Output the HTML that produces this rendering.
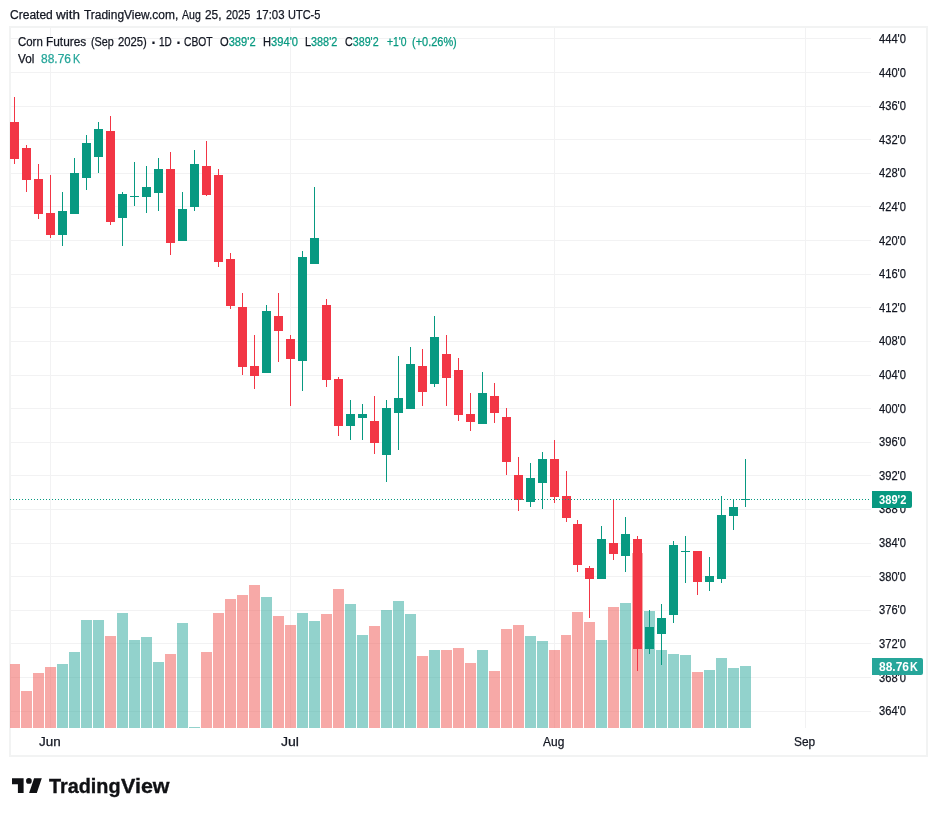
<!DOCTYPE html><html><head><meta charset="utf-8"><title>Corn Futures chart</title><style>
html,body{margin:0;padding:0;background:#fff}body{width:937px;height:816px;position:relative;overflow:hidden;font-family:"Liberation Sans",sans-serif}
.t{position:absolute;white-space:pre;line-height:1;margin:0;padding:0;transform-origin:0 0;-webkit-text-stroke:0.25px}.b{-webkit-text-stroke:0}.l{-webkit-text-stroke:0.35px}
</style></head><body>
<svg width="937" height="816" viewBox="0 0 937 816" shape-rendering="crispEdges" style="position:absolute;left:0;top:0">
<rect x="10" y="27" width="917" height="729" fill="none" stroke="#f2f3f3" stroke-width="2"/>
<rect x="11" y="38" width="860" height="1" fill="#f2f2f3"/>
<rect x="11" y="72" width="860" height="1" fill="#f2f2f3"/>
<rect x="11" y="106" width="860" height="1" fill="#f2f2f3"/>
<rect x="11" y="139" width="860" height="1" fill="#f2f2f3"/>
<rect x="11" y="173" width="860" height="1" fill="#f2f2f3"/>
<rect x="11" y="206" width="860" height="1" fill="#f2f2f3"/>
<rect x="11" y="240" width="860" height="1" fill="#f2f2f3"/>
<rect x="11" y="274" width="860" height="1" fill="#f2f2f3"/>
<rect x="11" y="307" width="860" height="1" fill="#f2f2f3"/>
<rect x="11" y="341" width="860" height="1" fill="#f2f2f3"/>
<rect x="11" y="375" width="860" height="1" fill="#f2f2f3"/>
<rect x="11" y="408" width="860" height="1" fill="#f2f2f3"/>
<rect x="11" y="442" width="860" height="1" fill="#f2f2f3"/>
<rect x="11" y="475" width="860" height="1" fill="#f2f2f3"/>
<rect x="11" y="509" width="860" height="1" fill="#f2f2f3"/>
<rect x="11" y="543" width="860" height="1" fill="#f2f2f3"/>
<rect x="11" y="576" width="860" height="1" fill="#f2f2f3"/>
<rect x="11" y="610" width="860" height="1" fill="#f2f2f3"/>
<rect x="11" y="643" width="860" height="1" fill="#f2f2f3"/>
<rect x="11" y="677" width="860" height="1" fill="#f2f2f3"/>
<rect x="11" y="711" width="860" height="1" fill="#f2f2f3"/>
<rect x="50" y="28" width="1" height="700" fill="#f2f2f3"/>
<rect x="290" y="28" width="1" height="700" fill="#f2f2f3"/>
<rect x="554" y="28" width="1" height="700" fill="#f2f2f3"/>
<rect x="805" y="28" width="1" height="700" fill="#f2f2f3"/>
<rect x="10" y="664" width="10" height="64" fill="rgba(239,83,80,0.5)"/>
<rect x="21" y="691" width="11" height="37" fill="rgba(239,83,80,0.5)"/>
<rect x="33" y="673" width="11" height="55" fill="rgba(239,83,80,0.5)"/>
<rect x="45" y="667" width="11" height="61" fill="rgba(239,83,80,0.5)"/>
<rect x="57" y="664" width="11" height="64" fill="rgba(38,166,154,0.5)"/>
<rect x="69" y="652" width="11" height="76" fill="rgba(38,166,154,0.5)"/>
<rect x="81" y="620" width="11" height="108" fill="rgba(38,166,154,0.5)"/>
<rect x="93" y="620" width="11" height="108" fill="rgba(38,166,154,0.5)"/>
<rect x="105" y="636" width="11" height="92" fill="rgba(239,83,80,0.5)"/>
<rect x="117" y="613" width="11" height="115" fill="rgba(38,166,154,0.5)"/>
<rect x="129" y="640" width="11" height="88" fill="rgba(38,166,154,0.5)"/>
<rect x="141" y="637" width="11" height="91" fill="rgba(38,166,154,0.5)"/>
<rect x="153" y="662" width="11" height="66" fill="rgba(38,166,154,0.5)"/>
<rect x="165" y="654" width="11" height="74" fill="rgba(239,83,80,0.5)"/>
<rect x="177" y="623" width="11" height="105" fill="rgba(38,166,154,0.5)"/>
<rect x="189" y="727" width="11" height="1" fill="rgba(38,166,154,0.5)"/>
<rect x="201" y="652" width="11" height="76" fill="rgba(239,83,80,0.5)"/>
<rect x="213" y="613" width="11" height="115" fill="rgba(239,83,80,0.5)"/>
<rect x="225" y="599" width="11" height="129" fill="rgba(239,83,80,0.5)"/>
<rect x="237" y="595" width="11" height="133" fill="rgba(239,83,80,0.5)"/>
<rect x="249" y="585" width="11" height="143" fill="rgba(239,83,80,0.5)"/>
<rect x="261" y="597" width="11" height="131" fill="rgba(38,166,154,0.5)"/>
<rect x="273" y="616" width="11" height="112" fill="rgba(239,83,80,0.5)"/>
<rect x="285" y="625" width="11" height="103" fill="rgba(239,83,80,0.5)"/>
<rect x="297" y="613" width="11" height="115" fill="rgba(38,166,154,0.5)"/>
<rect x="309" y="621" width="11" height="107" fill="rgba(38,166,154,0.5)"/>
<rect x="321" y="614" width="11" height="114" fill="rgba(239,83,80,0.5)"/>
<rect x="333" y="589" width="11" height="139" fill="rgba(239,83,80,0.5)"/>
<rect x="345" y="604" width="11" height="124" fill="rgba(38,166,154,0.5)"/>
<rect x="357" y="635" width="11" height="93" fill="rgba(38,166,154,0.5)"/>
<rect x="369" y="626" width="11" height="102" fill="rgba(239,83,80,0.5)"/>
<rect x="381" y="610" width="11" height="118" fill="rgba(38,166,154,0.5)"/>
<rect x="393" y="601" width="11" height="127" fill="rgba(38,166,154,0.5)"/>
<rect x="405" y="614" width="11" height="114" fill="rgba(38,166,154,0.5)"/>
<rect x="417" y="656" width="11" height="72" fill="rgba(239,83,80,0.5)"/>
<rect x="429" y="650" width="11" height="78" fill="rgba(38,166,154,0.5)"/>
<rect x="441" y="650" width="11" height="78" fill="rgba(239,83,80,0.5)"/>
<rect x="453" y="648" width="11" height="80" fill="rgba(239,83,80,0.5)"/>
<rect x="465" y="663" width="11" height="65" fill="rgba(239,83,80,0.5)"/>
<rect x="477" y="650" width="11" height="78" fill="rgba(38,166,154,0.5)"/>
<rect x="489" y="671" width="11" height="57" fill="rgba(239,83,80,0.5)"/>
<rect x="501" y="629" width="11" height="99" fill="rgba(239,83,80,0.5)"/>
<rect x="513" y="625" width="11" height="103" fill="rgba(239,83,80,0.5)"/>
<rect x="525" y="636" width="11" height="92" fill="rgba(38,166,154,0.5)"/>
<rect x="537" y="641" width="11" height="87" fill="rgba(38,166,154,0.5)"/>
<rect x="549" y="650" width="11" height="78" fill="rgba(239,83,80,0.5)"/>
<rect x="561" y="635" width="10" height="93" fill="rgba(239,83,80,0.5)"/>
<rect x="572" y="612" width="11" height="116" fill="rgba(239,83,80,0.5)"/>
<rect x="584" y="622" width="11" height="106" fill="rgba(239,83,80,0.5)"/>
<rect x="596" y="640" width="11" height="88" fill="rgba(38,166,154,0.5)"/>
<rect x="608" y="607" width="11" height="121" fill="rgba(239,83,80,0.5)"/>
<rect x="620" y="603" width="11" height="125" fill="rgba(38,166,154,0.5)"/>
<rect x="632" y="553" width="11" height="175" fill="rgba(239,83,80,0.5)"/>
<rect x="644" y="611" width="11" height="117" fill="rgba(38,166,154,0.5)"/>
<rect x="656" y="650" width="11" height="78" fill="rgba(38,166,154,0.5)"/>
<rect x="668" y="654" width="11" height="74" fill="rgba(38,166,154,0.5)"/>
<rect x="680" y="655" width="11" height="73" fill="rgba(38,166,154,0.5)"/>
<rect x="692" y="672" width="11" height="56" fill="rgba(239,83,80,0.5)"/>
<rect x="704" y="670" width="11" height="58" fill="rgba(38,166,154,0.5)"/>
<rect x="716" y="658" width="11" height="70" fill="rgba(38,166,154,0.5)"/>
<rect x="728" y="668" width="11" height="60" fill="rgba(38,166,154,0.5)"/>
<rect x="740" y="666" width="11" height="62" fill="rgba(38,166,154,0.5)"/>
<rect x="14" y="97" width="1" height="67" fill="#f23645"/>
<rect x="10" y="122" width="9" height="37" fill="#f23645"/>
<rect x="26" y="145" width="1" height="47" fill="#f23645"/>
<rect x="22" y="148" width="9" height="32" fill="#f23645"/>
<rect x="38" y="164" width="1" height="55" fill="#f23645"/>
<rect x="34" y="179" width="9" height="35" fill="#f23645"/>
<rect x="50" y="175" width="1" height="63" fill="#f23645"/>
<rect x="46" y="213" width="9" height="22" fill="#f23645"/>
<rect x="62" y="192" width="1" height="54" fill="#089981"/>
<rect x="58" y="211" width="9" height="24" fill="#089981"/>
<rect x="74" y="158" width="1" height="56" fill="#089981"/>
<rect x="70" y="173" width="9" height="41" fill="#089981"/>
<rect x="86" y="135" width="1" height="55" fill="#089981"/>
<rect x="82" y="143" width="9" height="35" fill="#089981"/>
<rect x="98" y="122" width="1" height="51" fill="#089981"/>
<rect x="94" y="129" width="9" height="28" fill="#089981"/>
<rect x="110" y="116" width="1" height="109" fill="#f23645"/>
<rect x="106" y="131" width="9" height="91" fill="#f23645"/>
<rect x="122" y="192" width="1" height="54" fill="#089981"/>
<rect x="118" y="194" width="9" height="24" fill="#089981"/>
<rect x="134" y="162" width="1" height="44" fill="#089981"/>
<rect x="130" y="196" width="9" height="1" fill="#089981"/>
<rect x="146" y="166" width="1" height="47" fill="#089981"/>
<rect x="142" y="187" width="9" height="10" fill="#089981"/>
<rect x="158" y="158" width="1" height="53" fill="#089981"/>
<rect x="154" y="169" width="9" height="24" fill="#089981"/>
<rect x="170" y="152" width="1" height="103" fill="#f23645"/>
<rect x="166" y="169" width="9" height="74" fill="#f23645"/>
<rect x="182" y="192" width="1" height="49" fill="#089981"/>
<rect x="178" y="209" width="9" height="32" fill="#089981"/>
<rect x="194" y="150" width="1" height="61" fill="#089981"/>
<rect x="190" y="164" width="9" height="43" fill="#089981"/>
<rect x="206" y="141" width="1" height="55" fill="#f23645"/>
<rect x="202" y="166" width="9" height="29" fill="#f23645"/>
<rect x="218" y="169" width="1" height="98" fill="#f23645"/>
<rect x="214" y="175" width="9" height="87" fill="#f23645"/>
<rect x="230" y="253" width="1" height="56" fill="#f23645"/>
<rect x="226" y="259" width="9" height="47" fill="#f23645"/>
<rect x="242" y="293" width="1" height="82" fill="#f23645"/>
<rect x="238" y="307" width="9" height="60" fill="#f23645"/>
<rect x="254" y="335" width="1" height="54" fill="#f23645"/>
<rect x="250" y="366" width="9" height="10" fill="#f23645"/>
<rect x="266" y="305" width="1" height="68" fill="#089981"/>
<rect x="262" y="311" width="9" height="62" fill="#089981"/>
<rect x="278" y="293" width="1" height="69" fill="#f23645"/>
<rect x="274" y="316" width="9" height="15" fill="#f23645"/>
<rect x="290" y="335" width="1" height="71" fill="#f23645"/>
<rect x="286" y="339" width="9" height="20" fill="#f23645"/>
<rect x="302" y="251" width="1" height="140" fill="#089981"/>
<rect x="298" y="257" width="9" height="104" fill="#089981"/>
<rect x="314" y="187" width="1" height="77" fill="#089981"/>
<rect x="310" y="238" width="9" height="26" fill="#089981"/>
<rect x="326" y="299" width="1" height="88" fill="#f23645"/>
<rect x="322" y="305" width="9" height="75" fill="#f23645"/>
<rect x="338" y="377" width="1" height="59" fill="#f23645"/>
<rect x="334" y="379" width="9" height="47" fill="#f23645"/>
<rect x="350" y="400" width="1" height="40" fill="#089981"/>
<rect x="346" y="414" width="9" height="12" fill="#089981"/>
<rect x="362" y="404" width="1" height="36" fill="#089981"/>
<rect x="358" y="414" width="9" height="4" fill="#089981"/>
<rect x="374" y="396" width="1" height="58" fill="#f23645"/>
<rect x="370" y="421" width="9" height="22" fill="#f23645"/>
<rect x="386" y="400" width="1" height="82" fill="#089981"/>
<rect x="382" y="408" width="9" height="47" fill="#089981"/>
<rect x="398" y="356" width="1" height="94" fill="#089981"/>
<rect x="394" y="398" width="9" height="15" fill="#089981"/>
<rect x="410" y="347" width="1" height="62" fill="#089981"/>
<rect x="406" y="364" width="9" height="45" fill="#089981"/>
<rect x="422" y="349" width="1" height="57" fill="#f23645"/>
<rect x="418" y="366" width="9" height="26" fill="#f23645"/>
<rect x="434" y="316" width="1" height="71" fill="#089981"/>
<rect x="430" y="337" width="9" height="47" fill="#089981"/>
<rect x="446" y="335" width="1" height="71" fill="#f23645"/>
<rect x="442" y="354" width="9" height="24" fill="#f23645"/>
<rect x="458" y="358" width="1" height="63" fill="#f23645"/>
<rect x="454" y="370" width="9" height="45" fill="#f23645"/>
<rect x="470" y="393" width="1" height="38" fill="#f23645"/>
<rect x="466" y="414" width="9" height="8" fill="#f23645"/>
<rect x="482" y="372" width="1" height="52" fill="#089981"/>
<rect x="478" y="393" width="9" height="31" fill="#089981"/>
<rect x="494" y="383" width="1" height="40" fill="#f23645"/>
<rect x="490" y="396" width="9" height="17" fill="#f23645"/>
<rect x="506" y="408" width="1" height="67" fill="#f23645"/>
<rect x="502" y="417" width="9" height="45" fill="#f23645"/>
<rect x="518" y="457" width="1" height="54" fill="#f23645"/>
<rect x="514" y="475" width="9" height="25" fill="#f23645"/>
<rect x="530" y="463" width="1" height="44" fill="#089981"/>
<rect x="526" y="478" width="9" height="24" fill="#089981"/>
<rect x="542" y="452" width="1" height="57" fill="#089981"/>
<rect x="538" y="459" width="9" height="24" fill="#089981"/>
<rect x="554" y="440" width="1" height="63" fill="#f23645"/>
<rect x="550" y="459" width="9" height="38" fill="#f23645"/>
<rect x="566" y="471" width="1" height="51" fill="#f23645"/>
<rect x="562" y="496" width="9" height="22" fill="#f23645"/>
<rect x="577" y="520" width="1" height="52" fill="#f23645"/>
<rect x="573" y="524" width="9" height="41" fill="#f23645"/>
<rect x="589" y="566" width="1" height="52" fill="#f23645"/>
<rect x="585" y="568" width="9" height="11" fill="#f23645"/>
<rect x="601" y="526" width="1" height="53" fill="#089981"/>
<rect x="597" y="539" width="9" height="40" fill="#089981"/>
<rect x="613" y="500" width="1" height="60" fill="#f23645"/>
<rect x="609" y="543" width="9" height="11" fill="#f23645"/>
<rect x="625" y="517" width="1" height="55" fill="#089981"/>
<rect x="621" y="534" width="9" height="22" fill="#089981"/>
<rect x="637" y="536" width="1" height="135" fill="#f23645"/>
<rect x="633" y="539" width="9" height="110" fill="#f23645"/>
<rect x="649" y="610" width="1" height="44" fill="#089981"/>
<rect x="645" y="627" width="9" height="22" fill="#089981"/>
<rect x="661" y="604" width="1" height="61" fill="#089981"/>
<rect x="657" y="618" width="9" height="16" fill="#089981"/>
<rect x="673" y="541" width="1" height="82" fill="#089981"/>
<rect x="669" y="545" width="9" height="70" fill="#089981"/>
<rect x="685" y="536" width="1" height="47" fill="#089981"/>
<rect x="681" y="551" width="9" height="1" fill="#089981"/>
<rect x="697" y="551" width="1" height="44" fill="#f23645"/>
<rect x="693" y="551" width="9" height="31" fill="#f23645"/>
<rect x="709" y="557" width="1" height="34" fill="#089981"/>
<rect x="705" y="576" width="9" height="6" fill="#089981"/>
<rect x="721" y="496" width="1" height="87" fill="#089981"/>
<rect x="717" y="515" width="9" height="64" fill="#089981"/>
<rect x="733" y="499" width="1" height="31" fill="#089981"/>
<rect x="729" y="507" width="9" height="9" fill="#089981"/>
<rect x="745" y="459" width="1" height="48" fill="#089981"/>
<rect x="741" y="499" width="9" height="1" fill="#089981"/>
<rect x="10" y="499" width="1" height="1" fill="#089981"/>
<rect x="13" y="499" width="1" height="1" fill="#089981"/>
<rect x="16" y="499" width="1" height="1" fill="#089981"/>
<rect x="19" y="499" width="1" height="1" fill="#089981"/>
<rect x="22" y="499" width="1" height="1" fill="#089981"/>
<rect x="25" y="499" width="1" height="1" fill="#089981"/>
<rect x="28" y="499" width="1" height="1" fill="#089981"/>
<rect x="31" y="499" width="1" height="1" fill="#089981"/>
<rect x="34" y="499" width="1" height="1" fill="#089981"/>
<rect x="37" y="499" width="1" height="1" fill="#089981"/>
<rect x="40" y="499" width="1" height="1" fill="#089981"/>
<rect x="43" y="499" width="1" height="1" fill="#089981"/>
<rect x="46" y="499" width="1" height="1" fill="#089981"/>
<rect x="49" y="499" width="1" height="1" fill="#089981"/>
<rect x="52" y="499" width="1" height="1" fill="#089981"/>
<rect x="55" y="499" width="1" height="1" fill="#089981"/>
<rect x="58" y="499" width="1" height="1" fill="#089981"/>
<rect x="61" y="499" width="1" height="1" fill="#089981"/>
<rect x="64" y="499" width="1" height="1" fill="#089981"/>
<rect x="67" y="499" width="1" height="1" fill="#089981"/>
<rect x="70" y="499" width="1" height="1" fill="#089981"/>
<rect x="73" y="499" width="1" height="1" fill="#089981"/>
<rect x="76" y="499" width="1" height="1" fill="#089981"/>
<rect x="79" y="499" width="1" height="1" fill="#089981"/>
<rect x="82" y="499" width="1" height="1" fill="#089981"/>
<rect x="85" y="499" width="1" height="1" fill="#089981"/>
<rect x="88" y="499" width="1" height="1" fill="#089981"/>
<rect x="91" y="499" width="1" height="1" fill="#089981"/>
<rect x="94" y="499" width="1" height="1" fill="#089981"/>
<rect x="97" y="499" width="1" height="1" fill="#089981"/>
<rect x="100" y="499" width="1" height="1" fill="#089981"/>
<rect x="103" y="499" width="1" height="1" fill="#089981"/>
<rect x="106" y="499" width="1" height="1" fill="#089981"/>
<rect x="109" y="499" width="1" height="1" fill="#089981"/>
<rect x="112" y="499" width="1" height="1" fill="#089981"/>
<rect x="115" y="499" width="1" height="1" fill="#089981"/>
<rect x="118" y="499" width="1" height="1" fill="#089981"/>
<rect x="121" y="499" width="1" height="1" fill="#089981"/>
<rect x="124" y="499" width="1" height="1" fill="#089981"/>
<rect x="127" y="499" width="1" height="1" fill="#089981"/>
<rect x="130" y="499" width="1" height="1" fill="#089981"/>
<rect x="133" y="499" width="1" height="1" fill="#089981"/>
<rect x="136" y="499" width="1" height="1" fill="#089981"/>
<rect x="139" y="499" width="1" height="1" fill="#089981"/>
<rect x="142" y="499" width="1" height="1" fill="#089981"/>
<rect x="145" y="499" width="1" height="1" fill="#089981"/>
<rect x="148" y="499" width="1" height="1" fill="#089981"/>
<rect x="151" y="499" width="1" height="1" fill="#089981"/>
<rect x="154" y="499" width="1" height="1" fill="#089981"/>
<rect x="157" y="499" width="1" height="1" fill="#089981"/>
<rect x="160" y="499" width="1" height="1" fill="#089981"/>
<rect x="163" y="499" width="1" height="1" fill="#089981"/>
<rect x="166" y="499" width="1" height="1" fill="#089981"/>
<rect x="169" y="499" width="1" height="1" fill="#089981"/>
<rect x="172" y="499" width="1" height="1" fill="#089981"/>
<rect x="175" y="499" width="1" height="1" fill="#089981"/>
<rect x="178" y="499" width="1" height="1" fill="#089981"/>
<rect x="181" y="499" width="1" height="1" fill="#089981"/>
<rect x="184" y="499" width="1" height="1" fill="#089981"/>
<rect x="187" y="499" width="1" height="1" fill="#089981"/>
<rect x="190" y="499" width="1" height="1" fill="#089981"/>
<rect x="193" y="499" width="1" height="1" fill="#089981"/>
<rect x="196" y="499" width="1" height="1" fill="#089981"/>
<rect x="199" y="499" width="1" height="1" fill="#089981"/>
<rect x="202" y="499" width="1" height="1" fill="#089981"/>
<rect x="205" y="499" width="1" height="1" fill="#089981"/>
<rect x="208" y="499" width="1" height="1" fill="#089981"/>
<rect x="211" y="499" width="1" height="1" fill="#089981"/>
<rect x="214" y="499" width="1" height="1" fill="#089981"/>
<rect x="217" y="499" width="1" height="1" fill="#089981"/>
<rect x="220" y="499" width="1" height="1" fill="#089981"/>
<rect x="223" y="499" width="1" height="1" fill="#089981"/>
<rect x="226" y="499" width="1" height="1" fill="#089981"/>
<rect x="229" y="499" width="1" height="1" fill="#089981"/>
<rect x="232" y="499" width="1" height="1" fill="#089981"/>
<rect x="235" y="499" width="1" height="1" fill="#089981"/>
<rect x="238" y="499" width="1" height="1" fill="#089981"/>
<rect x="241" y="499" width="1" height="1" fill="#089981"/>
<rect x="244" y="499" width="1" height="1" fill="#089981"/>
<rect x="247" y="499" width="1" height="1" fill="#089981"/>
<rect x="250" y="499" width="1" height="1" fill="#089981"/>
<rect x="253" y="499" width="1" height="1" fill="#089981"/>
<rect x="256" y="499" width="1" height="1" fill="#089981"/>
<rect x="259" y="499" width="1" height="1" fill="#089981"/>
<rect x="262" y="499" width="1" height="1" fill="#089981"/>
<rect x="265" y="499" width="1" height="1" fill="#089981"/>
<rect x="268" y="499" width="1" height="1" fill="#089981"/>
<rect x="271" y="499" width="1" height="1" fill="#089981"/>
<rect x="274" y="499" width="1" height="1" fill="#089981"/>
<rect x="277" y="499" width="1" height="1" fill="#089981"/>
<rect x="280" y="499" width="1" height="1" fill="#089981"/>
<rect x="283" y="499" width="1" height="1" fill="#089981"/>
<rect x="286" y="499" width="1" height="1" fill="#089981"/>
<rect x="289" y="499" width="1" height="1" fill="#089981"/>
<rect x="292" y="499" width="1" height="1" fill="#089981"/>
<rect x="295" y="499" width="1" height="1" fill="#089981"/>
<rect x="298" y="499" width="1" height="1" fill="#089981"/>
<rect x="301" y="499" width="1" height="1" fill="#089981"/>
<rect x="304" y="499" width="1" height="1" fill="#089981"/>
<rect x="307" y="499" width="1" height="1" fill="#089981"/>
<rect x="310" y="499" width="1" height="1" fill="#089981"/>
<rect x="313" y="499" width="1" height="1" fill="#089981"/>
<rect x="316" y="499" width="1" height="1" fill="#089981"/>
<rect x="319" y="499" width="1" height="1" fill="#089981"/>
<rect x="322" y="499" width="1" height="1" fill="#089981"/>
<rect x="325" y="499" width="1" height="1" fill="#089981"/>
<rect x="328" y="499" width="1" height="1" fill="#089981"/>
<rect x="331" y="499" width="1" height="1" fill="#089981"/>
<rect x="334" y="499" width="1" height="1" fill="#089981"/>
<rect x="337" y="499" width="1" height="1" fill="#089981"/>
<rect x="340" y="499" width="1" height="1" fill="#089981"/>
<rect x="343" y="499" width="1" height="1" fill="#089981"/>
<rect x="346" y="499" width="1" height="1" fill="#089981"/>
<rect x="349" y="499" width="1" height="1" fill="#089981"/>
<rect x="352" y="499" width="1" height="1" fill="#089981"/>
<rect x="355" y="499" width="1" height="1" fill="#089981"/>
<rect x="358" y="499" width="1" height="1" fill="#089981"/>
<rect x="361" y="499" width="1" height="1" fill="#089981"/>
<rect x="364" y="499" width="1" height="1" fill="#089981"/>
<rect x="367" y="499" width="1" height="1" fill="#089981"/>
<rect x="370" y="499" width="1" height="1" fill="#089981"/>
<rect x="373" y="499" width="1" height="1" fill="#089981"/>
<rect x="376" y="499" width="1" height="1" fill="#089981"/>
<rect x="379" y="499" width="1" height="1" fill="#089981"/>
<rect x="382" y="499" width="1" height="1" fill="#089981"/>
<rect x="385" y="499" width="1" height="1" fill="#089981"/>
<rect x="388" y="499" width="1" height="1" fill="#089981"/>
<rect x="391" y="499" width="1" height="1" fill="#089981"/>
<rect x="394" y="499" width="1" height="1" fill="#089981"/>
<rect x="397" y="499" width="1" height="1" fill="#089981"/>
<rect x="400" y="499" width="1" height="1" fill="#089981"/>
<rect x="403" y="499" width="1" height="1" fill="#089981"/>
<rect x="406" y="499" width="1" height="1" fill="#089981"/>
<rect x="409" y="499" width="1" height="1" fill="#089981"/>
<rect x="412" y="499" width="1" height="1" fill="#089981"/>
<rect x="415" y="499" width="1" height="1" fill="#089981"/>
<rect x="418" y="499" width="1" height="1" fill="#089981"/>
<rect x="421" y="499" width="1" height="1" fill="#089981"/>
<rect x="424" y="499" width="1" height="1" fill="#089981"/>
<rect x="427" y="499" width="1" height="1" fill="#089981"/>
<rect x="430" y="499" width="1" height="1" fill="#089981"/>
<rect x="433" y="499" width="1" height="1" fill="#089981"/>
<rect x="436" y="499" width="1" height="1" fill="#089981"/>
<rect x="439" y="499" width="1" height="1" fill="#089981"/>
<rect x="442" y="499" width="1" height="1" fill="#089981"/>
<rect x="445" y="499" width="1" height="1" fill="#089981"/>
<rect x="448" y="499" width="1" height="1" fill="#089981"/>
<rect x="451" y="499" width="1" height="1" fill="#089981"/>
<rect x="454" y="499" width="1" height="1" fill="#089981"/>
<rect x="457" y="499" width="1" height="1" fill="#089981"/>
<rect x="460" y="499" width="1" height="1" fill="#089981"/>
<rect x="463" y="499" width="1" height="1" fill="#089981"/>
<rect x="466" y="499" width="1" height="1" fill="#089981"/>
<rect x="469" y="499" width="1" height="1" fill="#089981"/>
<rect x="472" y="499" width="1" height="1" fill="#089981"/>
<rect x="475" y="499" width="1" height="1" fill="#089981"/>
<rect x="478" y="499" width="1" height="1" fill="#089981"/>
<rect x="481" y="499" width="1" height="1" fill="#089981"/>
<rect x="484" y="499" width="1" height="1" fill="#089981"/>
<rect x="487" y="499" width="1" height="1" fill="#089981"/>
<rect x="490" y="499" width="1" height="1" fill="#089981"/>
<rect x="493" y="499" width="1" height="1" fill="#089981"/>
<rect x="496" y="499" width="1" height="1" fill="#089981"/>
<rect x="499" y="499" width="1" height="1" fill="#089981"/>
<rect x="502" y="499" width="1" height="1" fill="#089981"/>
<rect x="505" y="499" width="1" height="1" fill="#089981"/>
<rect x="508" y="499" width="1" height="1" fill="#089981"/>
<rect x="511" y="499" width="1" height="1" fill="#089981"/>
<rect x="514" y="499" width="1" height="1" fill="#089981"/>
<rect x="517" y="499" width="1" height="1" fill="#089981"/>
<rect x="520" y="499" width="1" height="1" fill="#089981"/>
<rect x="523" y="499" width="1" height="1" fill="#089981"/>
<rect x="526" y="499" width="1" height="1" fill="#089981"/>
<rect x="529" y="499" width="1" height="1" fill="#089981"/>
<rect x="532" y="499" width="1" height="1" fill="#089981"/>
<rect x="535" y="499" width="1" height="1" fill="#089981"/>
<rect x="538" y="499" width="1" height="1" fill="#089981"/>
<rect x="541" y="499" width="1" height="1" fill="#089981"/>
<rect x="544" y="499" width="1" height="1" fill="#089981"/>
<rect x="547" y="499" width="1" height="1" fill="#089981"/>
<rect x="550" y="499" width="1" height="1" fill="#089981"/>
<rect x="553" y="499" width="1" height="1" fill="#089981"/>
<rect x="556" y="499" width="1" height="1" fill="#089981"/>
<rect x="559" y="499" width="1" height="1" fill="#089981"/>
<rect x="562" y="499" width="1" height="1" fill="#089981"/>
<rect x="565" y="499" width="1" height="1" fill="#089981"/>
<rect x="568" y="499" width="1" height="1" fill="#089981"/>
<rect x="571" y="499" width="1" height="1" fill="#089981"/>
<rect x="574" y="499" width="1" height="1" fill="#089981"/>
<rect x="577" y="499" width="1" height="1" fill="#089981"/>
<rect x="580" y="499" width="1" height="1" fill="#089981"/>
<rect x="583" y="499" width="1" height="1" fill="#089981"/>
<rect x="586" y="499" width="1" height="1" fill="#089981"/>
<rect x="589" y="499" width="1" height="1" fill="#089981"/>
<rect x="592" y="499" width="1" height="1" fill="#089981"/>
<rect x="595" y="499" width="1" height="1" fill="#089981"/>
<rect x="598" y="499" width="1" height="1" fill="#089981"/>
<rect x="601" y="499" width="1" height="1" fill="#089981"/>
<rect x="604" y="499" width="1" height="1" fill="#089981"/>
<rect x="607" y="499" width="1" height="1" fill="#089981"/>
<rect x="610" y="499" width="1" height="1" fill="#089981"/>
<rect x="613" y="499" width="1" height="1" fill="#089981"/>
<rect x="616" y="499" width="1" height="1" fill="#089981"/>
<rect x="619" y="499" width="1" height="1" fill="#089981"/>
<rect x="622" y="499" width="1" height="1" fill="#089981"/>
<rect x="625" y="499" width="1" height="1" fill="#089981"/>
<rect x="628" y="499" width="1" height="1" fill="#089981"/>
<rect x="631" y="499" width="1" height="1" fill="#089981"/>
<rect x="634" y="499" width="1" height="1" fill="#089981"/>
<rect x="637" y="499" width="1" height="1" fill="#089981"/>
<rect x="640" y="499" width="1" height="1" fill="#089981"/>
<rect x="643" y="499" width="1" height="1" fill="#089981"/>
<rect x="646" y="499" width="1" height="1" fill="#089981"/>
<rect x="649" y="499" width="1" height="1" fill="#089981"/>
<rect x="652" y="499" width="1" height="1" fill="#089981"/>
<rect x="655" y="499" width="1" height="1" fill="#089981"/>
<rect x="658" y="499" width="1" height="1" fill="#089981"/>
<rect x="661" y="499" width="1" height="1" fill="#089981"/>
<rect x="664" y="499" width="1" height="1" fill="#089981"/>
<rect x="667" y="499" width="1" height="1" fill="#089981"/>
<rect x="670" y="499" width="1" height="1" fill="#089981"/>
<rect x="673" y="499" width="1" height="1" fill="#089981"/>
<rect x="676" y="499" width="1" height="1" fill="#089981"/>
<rect x="679" y="499" width="1" height="1" fill="#089981"/>
<rect x="682" y="499" width="1" height="1" fill="#089981"/>
<rect x="685" y="499" width="1" height="1" fill="#089981"/>
<rect x="688" y="499" width="1" height="1" fill="#089981"/>
<rect x="691" y="499" width="1" height="1" fill="#089981"/>
<rect x="694" y="499" width="1" height="1" fill="#089981"/>
<rect x="697" y="499" width="1" height="1" fill="#089981"/>
<rect x="700" y="499" width="1" height="1" fill="#089981"/>
<rect x="703" y="499" width="1" height="1" fill="#089981"/>
<rect x="706" y="499" width="1" height="1" fill="#089981"/>
<rect x="709" y="499" width="1" height="1" fill="#089981"/>
<rect x="712" y="499" width="1" height="1" fill="#089981"/>
<rect x="715" y="499" width="1" height="1" fill="#089981"/>
<rect x="718" y="499" width="1" height="1" fill="#089981"/>
<rect x="721" y="499" width="1" height="1" fill="#089981"/>
<rect x="724" y="499" width="1" height="1" fill="#089981"/>
<rect x="727" y="499" width="1" height="1" fill="#089981"/>
<rect x="730" y="499" width="1" height="1" fill="#089981"/>
<rect x="733" y="499" width="1" height="1" fill="#089981"/>
<rect x="736" y="499" width="1" height="1" fill="#089981"/>
<rect x="739" y="499" width="1" height="1" fill="#089981"/>
<rect x="742" y="499" width="1" height="1" fill="#089981"/>
<rect x="745" y="499" width="1" height="1" fill="#089981"/>
<rect x="748" y="499" width="1" height="1" fill="#089981"/>
<rect x="751" y="499" width="1" height="1" fill="#089981"/>
<rect x="754" y="499" width="1" height="1" fill="#089981"/>
<rect x="757" y="499" width="1" height="1" fill="#089981"/>
<rect x="760" y="499" width="1" height="1" fill="#089981"/>
<rect x="763" y="499" width="1" height="1" fill="#089981"/>
<rect x="766" y="499" width="1" height="1" fill="#089981"/>
<rect x="769" y="499" width="1" height="1" fill="#089981"/>
<rect x="772" y="499" width="1" height="1" fill="#089981"/>
<rect x="775" y="499" width="1" height="1" fill="#089981"/>
<rect x="778" y="499" width="1" height="1" fill="#089981"/>
<rect x="781" y="499" width="1" height="1" fill="#089981"/>
<rect x="784" y="499" width="1" height="1" fill="#089981"/>
<rect x="787" y="499" width="1" height="1" fill="#089981"/>
<rect x="790" y="499" width="1" height="1" fill="#089981"/>
<rect x="793" y="499" width="1" height="1" fill="#089981"/>
<rect x="796" y="499" width="1" height="1" fill="#089981"/>
<rect x="799" y="499" width="1" height="1" fill="#089981"/>
<rect x="802" y="499" width="1" height="1" fill="#089981"/>
<rect x="805" y="499" width="1" height="1" fill="#089981"/>
<rect x="808" y="499" width="1" height="1" fill="#089981"/>
<rect x="811" y="499" width="1" height="1" fill="#089981"/>
<rect x="814" y="499" width="1" height="1" fill="#089981"/>
<rect x="817" y="499" width="1" height="1" fill="#089981"/>
<rect x="820" y="499" width="1" height="1" fill="#089981"/>
<rect x="823" y="499" width="1" height="1" fill="#089981"/>
<rect x="826" y="499" width="1" height="1" fill="#089981"/>
<rect x="829" y="499" width="1" height="1" fill="#089981"/>
<rect x="832" y="499" width="1" height="1" fill="#089981"/>
<rect x="835" y="499" width="1" height="1" fill="#089981"/>
<rect x="838" y="499" width="1" height="1" fill="#089981"/>
<rect x="841" y="499" width="1" height="1" fill="#089981"/>
<rect x="844" y="499" width="1" height="1" fill="#089981"/>
<rect x="847" y="499" width="1" height="1" fill="#089981"/>
<rect x="850" y="499" width="1" height="1" fill="#089981"/>
<rect x="853" y="499" width="1" height="1" fill="#089981"/>
<rect x="856" y="499" width="1" height="1" fill="#089981"/>
<rect x="859" y="499" width="1" height="1" fill="#089981"/>
<rect x="862" y="499" width="1" height="1" fill="#089981"/>
<rect x="865" y="499" width="1" height="1" fill="#089981"/>
<rect x="868" y="499" width="1" height="1" fill="#089981"/>
<g fill="#101114" shape-rendering="auto"><path d="M12 778.2H23.6V793H17.9V784.2H12Z"/><circle cx="28.9" cy="780.9" r="2.85"/><path d="M34.1 778.2H41.8L36.8 793H29.1Z"/></g>
</svg>
<span class="t" id="t0" style="left:9.86px;top:8.84px;font-size:12px;font-weight:400;color:#131722;transform:scaleX(1.0022)">Created</span>
<span class="t" id="t1" style="left:56.04px;top:8.84px;font-size:12px;font-weight:400;color:#131722;transform:scaleX(1.1206)">with</span>
<span class="t" id="t2" style="left:84.20px;top:8.84px;font-size:12px;font-weight:400;color:#131722;transform:scaleX(0.9951)">TradingView.com,</span>
<span class="t" id="t3" style="left:181.60px;top:8.84px;font-size:12px;font-weight:400;color:#131722;transform:scaleX(0.8792)">Aug</span>
<span class="t" id="t4" style="left:204.58px;top:8.84px;font-size:12px;font-weight:400;color:#131722;transform:scaleX(0.9918)">25,</span>
<span class="t" id="t5" style="left:225.70px;top:8.84px;font-size:12px;font-weight:400;color:#131722;transform:scaleX(0.9067)">2025</span>
<span class="t" id="t6" style="left:255.84px;top:8.84px;font-size:12px;font-weight:400;color:#131722;transform:scaleX(0.9507)">17:03</span>
<span class="t" id="t7" style="left:288.41px;top:8.84px;font-size:12px;font-weight:400;color:#131722;transform:scaleX(0.9170)">UTC-5</span>
<span class="t" id="t8" style="left:18.27px;top:35.84px;font-size:12px;font-weight:400;color:#131722;transform:scaleX(0.9523)">Corn</span>
<span class="t" id="t9" style="left:46.18px;top:35.84px;font-size:12px;font-weight:400;color:#131722;transform:scaleX(0.9878)">Futures</span>
<span class="t" id="t10" style="left:91.37px;top:35.84px;font-size:12px;font-weight:400;color:#131722;transform:scaleX(0.9025)">(Sep</span>
<span class="t" id="t11" style="left:117.68px;top:35.84px;font-size:12px;font-weight:400;color:#131722;transform:scaleX(0.9407)">2025)</span>
<span class="t" id="t12" style="left:159.13px;top:35.84px;font-size:12px;font-weight:400;color:#131722;transform:scaleX(0.8352)">1D</span>
<span class="t" id="t13" style="left:183.72px;top:35.84px;font-size:12px;font-weight:400;color:#131722;transform:scaleX(0.8554)">CBOT</span>
<span class="t" id="t14" style="left:220.45px;top:35.84px;font-size:12px;font-weight:400;color:#089981;transform:scaleX(0.9282)"><span style="color:#131722">O</span>389'2</span>
<span class="t" id="t15" style="left:262.99px;top:35.84px;font-size:12px;font-weight:400;color:#089981;transform:scaleX(0.9282)"><span style="color:#131722">H</span>394'0</span>
<span class="t" id="t16" style="left:304.58px;top:35.84px;font-size:12px;font-weight:400;color:#089981;transform:scaleX(0.9042)"><span style="color:#131722">L</span>388'2</span>
<span class="t" id="t17" style="left:345.32px;top:35.84px;font-size:12px;font-weight:400;color:#089981;transform:scaleX(0.8927)"><span style="color:#131722">C</span>389'2</span>
<span class="t" id="t18" style="left:386.67px;top:35.84px;font-size:12px;font-weight:400;color:#089981;transform:scaleX(0.8639)">+1'0</span>
<span class="t" id="t19" style="left:411.98px;top:35.84px;font-size:12px;font-weight:400;color:#089981;transform:scaleX(0.9132)">(+0.26%)</span>
<span class="t b" id="t20" style="left:151.20px;top:35.06px;font-size:16px;font-weight:700;color:#131722;transform:scaleX(1.0000)">·</span>
<span class="t b" id="t21" style="left:176.20px;top:35.06px;font-size:16px;font-weight:700;color:#131722;transform:scaleX(1.0000)">·</span>
<span class="t" id="t22" style="left:18.40px;top:52.84px;font-size:12px;font-weight:400;color:#131722;transform:scaleX(0.9757)">Vol</span>
<span class="t" id="t23" style="left:40.67px;top:52.84px;font-size:12px;font-weight:400;color:#26a69a;transform:scaleX(0.9967)">88.76</span>
<span class="t" id="t24" style="left:72.70px;top:52.84px;font-size:12px;font-weight:400;color:#26a69a;transform:scaleX(0.9000)">K</span>
<span class="t" id="t25" style="left:879.40px;top:32.84px;font-size:12px;font-weight:400;color:#131722;transform:scaleX(0.9284)">444'0</span>
<span class="t" id="t26" style="left:879.40px;top:66.84px;font-size:12px;font-weight:400;color:#131722;transform:scaleX(0.9284)">440'0</span>
<span class="t" id="t27" style="left:879.40px;top:99.84px;font-size:12px;font-weight:400;color:#131722;transform:scaleX(0.9284)">436'0</span>
<span class="t" id="t28" style="left:879.40px;top:133.84px;font-size:12px;font-weight:400;color:#131722;transform:scaleX(0.9284)">432'0</span>
<span class="t" id="t29" style="left:879.40px;top:166.84px;font-size:12px;font-weight:400;color:#131722;transform:scaleX(0.9284)">428'0</span>
<span class="t" id="t30" style="left:879.40px;top:200.84px;font-size:12px;font-weight:400;color:#131722;transform:scaleX(0.9284)">424'0</span>
<span class="t" id="t31" style="left:879.40px;top:234.84px;font-size:12px;font-weight:400;color:#131722;transform:scaleX(0.9284)">420'0</span>
<span class="t" id="t32" style="left:879.40px;top:267.84px;font-size:12px;font-weight:400;color:#131722;transform:scaleX(0.9284)">416'0</span>
<span class="t" id="t33" style="left:879.40px;top:301.84px;font-size:12px;font-weight:400;color:#131722;transform:scaleX(0.9284)">412'0</span>
<span class="t" id="t34" style="left:879.40px;top:334.84px;font-size:12px;font-weight:400;color:#131722;transform:scaleX(0.9284)">408'0</span>
<span class="t" id="t35" style="left:879.40px;top:368.84px;font-size:12px;font-weight:400;color:#131722;transform:scaleX(0.9284)">404'0</span>
<span class="t" id="t36" style="left:879.40px;top:402.84px;font-size:12px;font-weight:400;color:#131722;transform:scaleX(0.9284)">400'0</span>
<span class="t" id="t37" style="left:879.40px;top:435.84px;font-size:12px;font-weight:400;color:#131722;transform:scaleX(0.9284)">396'0</span>
<span class="t" id="t38" style="left:879.40px;top:469.84px;font-size:12px;font-weight:400;color:#131722;transform:scaleX(0.9284)">392'0</span>
<span class="t" id="t39" style="left:879.40px;top:502.84px;font-size:12px;font-weight:400;color:#131722;transform:scaleX(0.9284)">388'0</span>
<span class="t" id="t40" style="left:879.40px;top:536.84px;font-size:12px;font-weight:400;color:#131722;transform:scaleX(0.9284)">384'0</span>
<span class="t" id="t41" style="left:879.40px;top:570.84px;font-size:12px;font-weight:400;color:#131722;transform:scaleX(0.9284)">380'0</span>
<span class="t" id="t42" style="left:879.40px;top:603.84px;font-size:12px;font-weight:400;color:#131722;transform:scaleX(0.9284)">376'0</span>
<span class="t" id="t43" style="left:879.40px;top:637.84px;font-size:12px;font-weight:400;color:#131722;transform:scaleX(0.9284)">372'0</span>
<span class="t" id="t44" style="left:879.40px;top:671.84px;font-size:12px;font-weight:400;color:#131722;transform:scaleX(0.9284)">368'0</span>
<span class="t" id="t45" style="left:879.40px;top:704.84px;font-size:12px;font-weight:400;color:#131722;transform:scaleX(0.9284)">364'0</span>
<div style="position:absolute;left:872px;top:491px;width:40px;height:17px;border-radius:0 2px 2px 0;background:#089981"></div><div style="position:absolute;left:872px;top:658px;width:51px;height:17px;border-radius:0 2px 2px 0;background:#26a69a"></div>
<span class="t b" id="t46" style="left:878.97px;top:493.84px;font-size:12px;font-weight:700;color:#ffffff;transform:scaleX(0.9281)">389'2</span>
<span class="t b" id="t47" style="left:878.90px;top:660.84px;font-size:12px;font-weight:700;color:#ffffff;transform:scaleX(1.0005)">88.76</span>
<span class="t b" id="t48" style="left:910.10px;top:660.84px;font-size:12px;font-weight:700;color:#ffffff;transform:scaleX(0.9000)">K</span>
<span class="t" id="t49" style="left:38.68px;top:736.14px;font-size:12px;font-weight:400;color:#131722;transform:scaleX(1.1182)">Jun</span>
<span class="t" id="t50" style="left:281.00px;top:736.14px;font-size:12px;font-weight:400;color:#131722;transform:scaleX(1.1722)">Jul</span>
<span class="t" id="t51" style="left:543.20px;top:736.14px;font-size:12px;font-weight:400;color:#131722;transform:scaleX(0.9968)">Aug</span>
<span class="t" id="t52" style="left:794.34px;top:736.14px;font-size:12px;font-weight:400;color:#131722;transform:scaleX(0.9882)">Sep</span>
<span class="t l" id="t53" style="left:49.30px;top:776.07px;font-size:20px;font-weight:700;color:#101114;transform:scaleX(0.9900)">Trading</span>
<span class="t l" id="t54" style="left:120.70px;top:776.07px;font-size:20px;font-weight:700;color:#101114;transform:scaleX(1.0732)">View</span>
</body></html>
